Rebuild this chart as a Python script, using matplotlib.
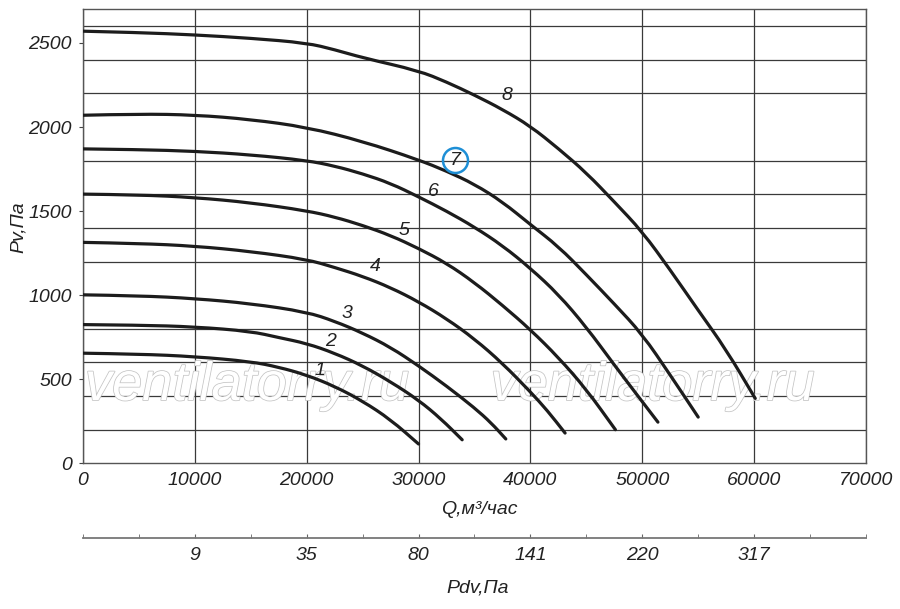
import matplotlib
matplotlib.use('Agg')
import matplotlib.pyplot as plt
import matplotlib.patheffects as pe
from matplotlib.path import Path
from matplotlib.patches import PathPatch
from matplotlib.ticker import MultipleLocator

plt.rcParams['font.family'] = ['Liberation Sans', 'DejaVu Sans']
plt.rcParams['font.style'] = 'italic'

# Характеристики вентилятора: Q (м3/час) и Pv (Па), кривые 1..8
q1 = [0, 5000, 10000, 15000, 17500, 20000, 22500, 25000, 27500, 30000]
p1 = [655, 650, 635, 605, 572, 525, 458, 370, 260, 115]

q2 = [0, 5000, 10000, 15000, 17500, 20000, 22500, 25000, 27500, 30000, 32000, 33900]
p2 = [825, 822, 812, 785, 748, 713, 655, 580, 485, 376, 265, 140]

q3 = [0, 5000, 10000, 15000, 20000, 22500, 25000, 27500, 30000, 32500, 35000, 36500, 37800]
p3 = [1002, 997, 980, 950, 900, 845, 775, 690, 580, 460, 330, 240, 145]

q4 = [0, 5000, 10000, 15000, 20000, 22500, 25000, 27500, 30000, 32500, 35000, 37500, 40000, 41500, 43100]
p4 = [1314, 1308, 1292, 1260, 1213, 1165, 1112, 1045, 961, 860, 740, 595, 425, 315, 180]

q5 = [0, 5000, 10000, 15000, 20000, 22500, 25000, 27500, 30000, 32500, 35000, 37500, 40000, 42500, 45000, 47600]
p5 = [1601, 1597, 1581, 1550, 1502, 1465, 1415, 1355, 1278, 1190, 1075, 940, 795, 630, 440, 200]

q6 = [0, 5000, 10000, 15000, 20000, 22500, 25000, 27500, 30000, 32500, 35000, 37500, 40000, 42500, 45000, 47500, 49500, 51400]
p6 = [1870, 1866, 1856, 1835, 1801, 1768, 1722, 1665, 1585, 1500, 1405, 1295, 1160, 1005, 810, 585, 410, 245]

q7 = [0, 5000, 10000, 15000, 20000, 25000, 30000, 32500, 35000, 37500, 40000, 42500, 45000, 47500, 50000, 52500, 55000]
p7 = [2070, 2078, 2072, 2045, 1999, 1915, 1805, 1738, 1660, 1555, 1420, 1290, 1122, 948, 768, 525, 275]

q8 = [0, 5000, 10000, 15000, 20000, 22500, 25000, 30000, 32500, 35000, 37500, 40000, 42500, 45000, 47500, 50000, 52500, 55000, 57500, 60100]
p8 = [2570, 2562, 2548, 2528, 2500, 2460, 2412, 2335, 2268, 2190, 2105, 2005, 1872, 1728, 1555, 1378, 1150, 910, 676, 386]

# подписи кривых
curve_names = ['1', '2', '3', '4', '5', '6', '7', '8']
name_q = [21220, 22175, 23610, 26140, 28740, 31360, 33300, 37900]
name_p = [551, 723, 892, 1169, 1387, 1614, 1802, 2185]

# шкала динамического давления
pdv_q = [10000, 20000, 30000, 40000, 50000, 60000]
pdv_labels = ['9', '35', '80', '141', '220', '317']

watermark_q = [180, 36440]
watermark_p = [376, 376]

curves = [(q1, p1), (q2, p2), (q3, p3), (q4, p4), (q5, p5), (q6, p6), (q7, p7), (q8, p8)]


def smooth_path(q, p):
    # квадратичные кривые Безье через середины отрезков
    verts = [(q[0], p[0])]
    codes = [Path.MOVETO]
    for i in range(1, len(q) - 1):
        verts.append((q[i], p[i]))
        verts.append(((q[i] + q[i + 1]) / 2, (p[i] + p[i + 1]) / 2))
        codes += [Path.CURVE3, Path.CURVE3]
    verts.append((q[-1], p[-1]))
    codes.append(Path.LINETO)
    return Path(verts, codes)


fig = plt.figure(figsize=(9, 6.09), dpi=100)
ax = fig.add_axes([0.0922, 0.2392, 0.8700, 0.7455])

ax.set_xlim(0, 70000)
ax.set_ylim(0, 2700)

ax.xaxis.set_major_locator(MultipleLocator(10000))
ax.yaxis.set_major_locator(MultipleLocator(500))
ax.yaxis.set_minor_locator(MultipleLocator(200))
ax.grid(which='major', axis='x', color='#3a3a3a', lw=0.9, zorder=1)
ax.grid(which='minor', axis='y', color='#3a3a3a', lw=0.9, zorder=1)
ax.set_axisbelow(True)

ax.tick_params(axis='x', which='both', length=0, pad=6, labelsize=14, labelcolor='#222')
ax.tick_params(axis='y', which='major', length=3, direction='out', pad=5, labelsize=14,
               labelcolor='#222', color='#444')
ax.tick_params(axis='y', which='minor', length=0)
for s in ax.spines.values():
    s.set_color('#555')
    s.set_linewidth(1.0)

# водяной знак
for wq, wp in zip(watermark_q, watermark_p):
    ax.text(wq, wp, 'ventilatorry.ru', fontsize=39, color='white',
            ha='left', va='baseline', zorder=2,
            path_effects=[pe.Stroke(linewidth=1.1, foreground='#c4c4c4'), pe.Normal()])

for q, p in curves:
    ax.add_patch(PathPatch(smooth_path(q, p), fill=False, ec='#1c1c1c', lw=2.3,
                           capstyle='round', joinstyle='round', zorder=3))

for name, nq, npv in zip(curve_names, name_q, name_p):
    ax.text(nq, npv, name, fontsize=14, color='#222', ha='center', va='center', zorder=4)

# кружок вокруг 7
ax.plot(name_q[6], name_p[6], marker='o', ms=18, mfc='none', mec='#1e8fd6', mew=1.8, zorder=5)

sec = ax.secondary_xaxis(-0.1639)
sec.set_xticks(pdv_q, labels=pdv_labels)
sec.xaxis.set_minor_locator(MultipleLocator(5000))
sec.tick_params(which='both', direction='in', length=3, color='#666', pad=7,
                labelsize=14, labelcolor='#222')
sec.spines['bottom'].set_color('#777')
sec.spines['bottom'].set_linewidth(1.3)

fig.text(479 / 900, 1 - 510 / 609, 'Q,м³/час', fontsize=14, color='#222', ha='center', va='center')
fig.text(478 / 900, 1 - 588 / 609, 'Pdv,Па', fontsize=14, color='#222', ha='center', va='center')
fig.text(18 / 900, 1 - 227 / 609, 'Pv,Па', fontsize=14, color='#222', ha='center', va='center',
         rotation=90)

fig.savefig('out.png', dpi=100)
